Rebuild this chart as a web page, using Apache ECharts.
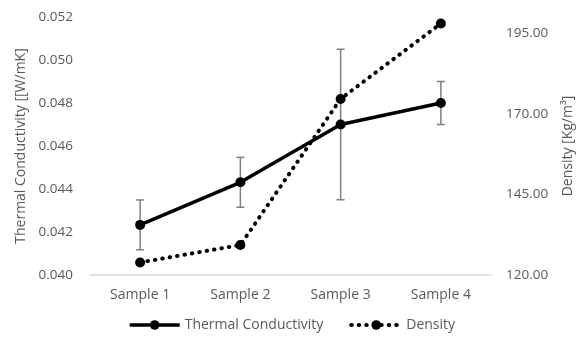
<!DOCTYPE html>
<html>
<head>
<meta charset="utf-8">
<script src="https://cdn.jsdelivr.net/npm/echarts@6/dist/echarts.min.js"></script>
<style>
  html, body { margin: 0; padding: 0; background: #fff; }
  #chart { width: 583px; height: 342px; }
</style>
</head>
<body>
<div id="chart"></div>
<script>
// data
const samples = ['Sample 1', 'Sample 2', 'Sample 3', 'Sample 4'];
const conductivity = [0.04233, 0.04431, 0.0470, 0.0480];
const conductivityErr = [0.00116, 0.00116, 0.0035, 0.0010];
const density = [123.9, 129.3, 174.6, 198.0];

const font = '"Open Sans", "Noto Sans", sans-serif';
const grey = '#595959';

// error bar bounds for the custom series
const errData = conductivity.map((v, i) => [i, v - conductivityErr[i], v + conductivityErr[i]]);

const myChart = echarts.init(document.getElementById('chart'));
const option = {
    animation: false,
    textStyle: { fontFamily: font },
    grid: { left: 90, right: 86, top: 17, bottom: 67 },
    legend: {
        bottom: 5,
        left: 'center',
        itemWidth: 50,
        itemHeight: 12,
        itemGap: 26,
        textStyle: { color: grey, fontSize: 14, fontFamily: font },
        data: [
            { name: 'Thermal Conductivity', lineStyle: { width: 3.5 } },
            { name: 'Density', lineStyle: { width: 4, type: [0.5, 7], cap: 'round' } }
        ]
    },
    xAxis: {
        type: 'category',
        data: samples,
        axisLine: { lineStyle: { color: '#d9d9d9', width: 1.5 } },
        axisTick: { show: false },
        axisLabel: { color: grey, fontSize: 14, margin: 13, fontFamily: font }
    },
    yAxis: [{
        type: 'value',
        min: 0.040,
        max: 0.052,
        interval: 0.002,
        splitLine: { show: false },
        axisLine: { show: false },
        axisTick: { show: false },
        axisLabel: { color: grey, fontSize: 13.5, margin: 17, fontFamily: font,
            formatter: v => v.toFixed(3) },
        name: 'Thermal Conductivity [[W/mK]',
        nameLocation: 'middle',
        nameGap: 62,
        nameTextStyle: { color: grey, fontSize: 14, fontFamily: font }
    }, {
        type: 'value',
        min: 120,
        max: 200,
        interval: 25,
        position: 'right',
        splitLine: { show: false },
        axisLine: { show: false },
        axisTick: { show: false },
        axisLabel: { color: grey, fontSize: 13.5, margin: 15, fontFamily: font,
            showMaxLabel: false,
            formatter: v => v.toFixed(2) },
        name: 'Density [Kg/m³]',
        nameLocation: 'middle',
        nameGap: 70,
        nameRotate: 90,
        nameTextStyle: { color: grey, fontSize: 14, fontFamily: font }
    }],
    series: [{
        name: 'Error',
        type: 'custom',
        yAxisIndex: 0,
        data: errData,
        z: 1,
        renderItem: (params, api) => {
            const lo = api.coord([api.value(0), api.value(1)]);
            const hi = api.coord([api.value(0), api.value(2)]);
            const cap = 4;
            const style = { stroke: '#7f7f7f', lineWidth: 1.5 };
            return {
                type: 'group',
                children: [
                    { type: 'line', shape: { x1: lo[0], y1: lo[1], x2: hi[0], y2: hi[1] }, style },
                    { type: 'line', shape: { x1: lo[0] - cap, y1: lo[1], x2: lo[0] + cap, y2: lo[1] }, style },
                    { type: 'line', shape: { x1: hi[0] - cap, y1: hi[1], x2: hi[0] + cap, y2: hi[1] }, style }
                ]
            };
        }
    }, {
        name: 'Thermal Conductivity',
        type: 'line',
        yAxisIndex: 0,
        data: conductivity,
        z: 3,
        symbol: 'circle',
        symbolSize: 10,
        itemStyle: { color: '#000' },
        lineStyle: { color: '#000', width: 3.5 }
    }, {
        name: 'Density',
        type: 'line',
        yAxisIndex: 1,
        data: density,
        z: 2,
        symbol: 'circle',
        symbolSize: 10,
        itemStyle: { color: '#000' },
        lineStyle: { color: '#000', width: 4, type: [0.5, 7], cap: 'round' }
    }]
};
myChart.setOption(option);
</script>
</body>
</html>
